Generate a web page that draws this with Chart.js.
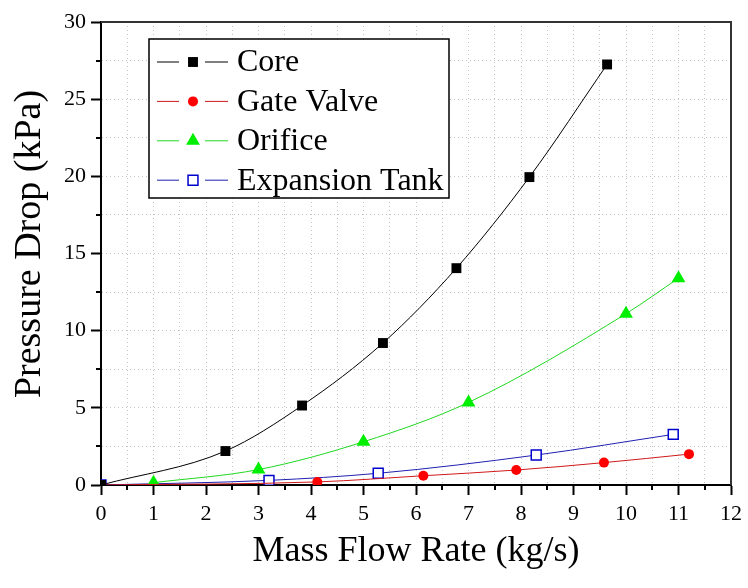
<!DOCTYPE html>
<html lang="en">
<head>
  <meta charset="UTF-8">
  <title>Pressure Drop vs Mass Flow Rate</title>
  <script src="https://cdn.jsdelivr.net/npm/chart.js"></script>
  <style>
    body {
      margin: 0;
      background-color: #ffffff;
    }
  </style>
</head>
<body>
  <canvas id="dropChart" width="748" height="588"></canvas>

  <script>
    // Series (x = kg/s, y = kPa)
    const seriesNames = ['Core', 'Gate Valve', 'Orifice', 'Expansion Tank'];
    const coreX = [0, 2.37, 3.83, 5.37, 6.77, 8.16, 9.64];
    const coreY = [0, 2.2, 5.15, 9.2, 14.05, 19.95, 27.25];
    const gateX = [0, 4.12, 6.14, 7.91, 9.58, 11.2];
    const gateY = [0, 0.2, 0.6, 0.97, 1.45, 2.0];
    const orificeX = [1, 3, 5, 7, 10, 11];
    const orificeY = [0.15, 1.0, 2.8, 5.35, 11.1, 13.4];
    const tankX = [0, 3.2, 5.28, 8.29, 10.9];
    const tankY = [0, 0.3, 0.76, 1.94, 3.28];

    // Axis ranges / tick steps
    const xRange = [0, 12];
    const yRange = [0, 30];
    const xMajor = 1, xMinor = 0.5;
    const yMajor = 5, yMinor = 2.5;

    const serif = "'Liberation Serif', 'Times New Roman', serif";

    function points(xs, ys) {
      return xs.map((x, i) => ({ x: x, y: ys[i] }));
    }

    const isMajor = (v, step) => Math.abs(v / step - Math.round(v / step)) < 1e-6;

    // Origin-style frame on top and right, plus short minor ticks
    const framePlugin = {
      id: 'frame',
      beforeDatasetsDraw(chart) {
        const a = chart.chartArea, c = chart.ctx;
        c.save();
        c.strokeStyle = '#333333';
        c.lineWidth = 2;
        c.beginPath();
        c.moveTo(a.left, a.top);
        c.lineTo(a.right, a.top);
        c.lineTo(a.right, a.bottom);
        c.stroke();
        c.restore();
      },
      afterDraw(chart) {
        const c = chart.ctx;
        const xs = chart.scales.x, ys = chart.scales.y;
        c.save();
        c.strokeStyle = '#000000';
        c.lineWidth = 2;
        c.beginPath();
        xs.ticks.forEach(t => {
          if (!isMajor(t.value, xMajor)) {
            const px = Math.round(xs.getPixelForValue(t.value));
            c.moveTo(px, xs.top);
            c.lineTo(px, xs.top + 5);
          }
        });
        ys.ticks.forEach(t => {
          if (!isMajor(t.value, yMajor)) {
            const py = Math.round(ys.getPixelForValue(t.value));
            c.moveTo(ys.right, py);
            c.lineTo(ys.right - 5, py);
          }
        });
        c.stroke();
        c.restore();
      }
    };

    function drawMarker(c, ds, x, y) {
      const r = ds.pointRadius;
      c.save();
      c.fillStyle = ds.pointBackgroundColor;
      c.strokeStyle = ds.pointBorderColor;
      c.lineWidth = ds.pointBorderWidth;
      c.beginPath();
      if (ds.pointStyle === 'rect') {
        const s = r / Math.SQRT2;
        c.rect(x - s, y - s, 2 * s, 2 * s);
      } else if (ds.pointStyle === 'triangle') {
        const h = r * 1.5, w = r * Math.sqrt(3);
        c.moveTo(x, y - r);
        c.lineTo(x + w / 2, y - r + h);
        c.lineTo(x - w / 2, y - r + h);
        c.closePath();
      } else {
        c.arc(x, y, r, 0, Math.PI * 2);
      }
      c.fill();
      if (ds.pointBorderWidth) c.stroke();
      c.restore();
    }

    // Legend box inside the plot, line - marker - line samples
    const legendPlugin = {
      id: 'boxLegend',
      afterDraw(chart) {
        const a = chart.chartArea, c = chart.ctx;
        const bx = a.left + 48, by = a.top + 17, bw = 300, bh = 159;
        c.save();
        c.fillStyle = '#ffffff';
        c.fillRect(bx, by, bw, bh);
        c.strokeStyle = '#000000';
        c.lineWidth = 1.5;
        c.strokeRect(bx, by, bw, bh);
        c.font = '32px ' + serif;
        c.textBaseline = 'middle';
        chart.data.datasets.forEach((ds, i) => {
          const cy = by + 23 + i * 39.4;
          c.strokeStyle = ds.borderColor;
          c.lineWidth = 1;
          c.beginPath();
          c.moveTo(bx + 8, cy);
          c.lineTo(bx + 30, cy);
          c.moveTo(bx + 56, cy);
          c.lineTo(bx + 79, cy);
          c.stroke();
          drawMarker(c, ds, bx + 44, cy);
          c.fillStyle = '#000000';
          c.fillText(ds.label, bx + 88, cy + 1);
        });
        c.restore();
      }
    };

    const ctx = document.getElementById('dropChart').getContext('2d');

    const dropChart = new Chart(ctx, {
      type: 'line',
      data: {
        datasets: [
          {
            label: seriesNames[0],
            data: points(coreX, coreY),
            borderColor: '#000000',
            borderWidth: 1,
            pointStyle: 'rect',
            pointRadius: 7,
            pointBackgroundColor: '#000000',
            pointBorderColor: '#000000',
            pointBorderWidth: 0
          },
          {
            label: seriesNames[1],
            data: points(gateX, gateY),
            borderColor: '#d01818',
            borderWidth: 1,
            pointStyle: 'circle',
            pointRadius: 5,
            pointBackgroundColor: '#ff0000',
            pointBorderColor: '#ff0000',
            pointBorderWidth: 0
          },
          {
            label: seriesNames[2],
            data: points(orificeX, orificeY),
            borderColor: '#20d820',
            borderWidth: 1,
            pointStyle: 'triangle',
            pointRadius: 8,
            pointBackgroundColor: '#00ee00',
            pointBorderColor: '#00ee00',
            pointBorderWidth: 0
          },
          {
            label: seriesNames[3],
            data: points(tankX, tankY),
            borderColor: '#2020b0',
            borderWidth: 1,
            pointStyle: 'rect',
            pointRadius: 7,
            pointBackgroundColor: '#ffffff',
            pointBorderColor: '#0000cc',
            pointBorderWidth: 1.5
          }
        ]
      },
      options: {
        responsive: false,
        animation: false,
        cubicInterpolationMode: 'monotone',
        layout: { padding: { top: 22, right: 17, left: 0, bottom: 0 } },
        plugins: {
          legend: { display: false },
          tooltip: { enabled: false }
        },
        scales: {
          x: {
            type: 'linear',
            min: xRange[0],
            max: xRange[1],
            afterFit(scale) { scale.height = 103; },
            ticks: {
              stepSize: xMinor,
              autoSkip: false,
              maxRotation: 0,
              padding: 6,
              color: '#000000',
              font: { family: serif, size: 22 },
              callback: v => isMajor(v, xMajor) ? String(v) : ''
            },
            grid: {
              color: '#c4c4c4',
              lineWidth: 1,
              tickLength: 10,
              tickWidth: 2,
              tickColor: c => isMajor(c.tick.value, xMajor) ? '#000000' : 'rgba(0,0,0,0)'
            },
            border: { display: true, color: '#000000', width: 2, dash: [1, 3] },
            title: {
              display: true,
              text: 'Mass Flow Rate (kg/s)',
              color: '#000000',
              font: { family: serif, size: 36 },
              padding: { bottom: 15 }
            }
          },
          y: {
            type: 'linear',
            min: yRange[0],
            max: yRange[1],
            afterFit(scale) { scale.width = 101; },
            ticks: {
              stepSize: yMinor,
              autoSkip: false,
              padding: 5,
              color: '#000000',
              font: { family: serif, size: 22 },
              callback: v => isMajor(v, yMajor) ? String(v) : ''
            },
            grid: {
              color: '#c4c4c4',
              lineWidth: 1,
              tickLength: 10,
              tickWidth: 2,
              tickColor: c => isMajor(c.tick.value, yMajor) ? '#000000' : 'rgba(0,0,0,0)'
            },
            border: { display: true, color: '#000000', width: 2, dash: [1, 3] },
            title: {
              display: true,
              text: '  Pressure Drop (kPa)',
              color: '#000000',
              font: { family: serif, size: 38 },
              padding: { top: 7 }
            }
          }
        }
      },
      plugins: [framePlugin, legendPlugin]
    });
  </script>
</body>
</html>
